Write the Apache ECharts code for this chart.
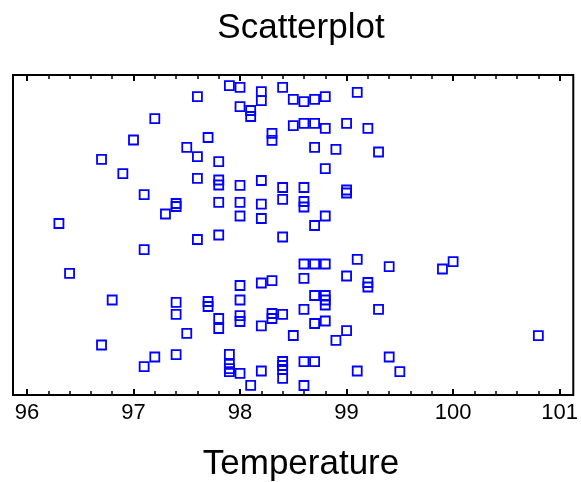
<!DOCTYPE html>
<html>
<head>
<meta charset="utf-8">
<script src="https://cdn.jsdelivr.net/npm/echarts@6/dist/echarts.min.js"></script>
<style>
  html, body { margin: 0; padding: 0; background: #fff; }
  #chart { width: 581px; height: 482px; }
</style>
</head>
<body>
<div id="chart"></div>
<script>
// Temperature levels (x) and the vertical jitter of each point at that level
const tempLevels = [96.3, 96.4, 96.7, 96.8, 96.9, 97.0, 97.1, 97.2, 97.3, 97.4, 97.5, 97.6, 97.7, 97.8, 97.9,
  98.0, 98.1, 98.2, 98.3, 98.4, 98.5, 98.6, 98.7, 98.8, 98.9, 99.0, 99.1, 99.2, 99.3, 99.4, 99.5, 99.9, 100.0, 100.8];
const jitterByLevel = [
  [171.5],
  [121.7],
  [235.7, 50],
  [95],
  [221.3],
  [255],
  [200.3, 145.3, 28.3],
  [276.3, 38],
  [181],
  [191.5, 188.5, 92.7, 80.7, 40.3],
  [247.7, 61.7],
  [298.3, 238.3, 216.7, 155.5],
  [257.5, 93.5, 88.5],
  [233.3, 215, 210, 192.7, 160, 76.5, 66.5],
  [309.3, 40.7, 30.7, 26.3, 23.3],
  [307.7, 288.3, 209.7, 192.7, 179, 109.5, 95, 79.3, 73.5, 21.7],
  [284.5, 278.5, 9.7],
  [303.3, 294.3, 214.5, 190.8, 176.5, 112, 69.2, 24],
  [261.7, 254.7, 114.3, 81.5, 76.5],
  [307.7, 207.5, 195.7, 158, 80.7, 33.5, 29.5, 25.5, 16.7],
  [295.7, 269.3, 59.5],
  [293.3, 271.7, 207.5, 193.5, 188, 131, 116.7, 85.7, 33.3, 9.5],
  [295.7, 271.7, 247.7, 169.5, 131, 99.5, 71.5, 33.3],
  [298.3, 266.7, 226.3, 179, 131, 99.5, 95, 90, 74],
  [245.7, 54.7],
  [271.7, 205, 202, 119, 64.3],
  [302.7, 135.7, 24],
  [266.7, 112.5, 108],
  [243, 85.7],
  [128.3, 38],
  [23.3],
  [126],
  [133.3],
  [59.3]
];
const majorTicks = [96, 97, 98, 99, 100, 101];
const minorTicks = [];
for (let i = 0; i <= 25; i++) { minorTicks.push(Math.round((96 + i * 0.2) * 10) / 10); }
const tickLabels = ['96', '97', '98', '99', '100', '101'];

const points = [];
tempLevels.forEach((t, i) => { jitterByLevel[i].forEach(j => points.push([t, j])); });

const X_MIN = 95.869, X_MAX = 101.128;
const FONT = '"Liberation Sans", Arial, sans-serif';

function xAx(position, ticks, len, width, labels) {
  return {
    type: 'value', position: position, min: X_MIN, max: X_MAX,
    axisLine: { show: false }, splitLine: { show: false },
    axisTick: { show: true, inside: true, length: len, customValues: ticks,
      lineStyle: { color: '#000', width: width } },
    axisLabel: labels ? { show: true, customValues: ticks, margin: 7,
      formatter: v => tickLabels[majorTicks.indexOf(Math.round(v))] || String(v),
      color: '#000', fontSize: 22, fontFamily: FONT } : { show: false }
  };
}

const chart = echarts.init(document.getElementById('chart'), null, { renderer: 'canvas' });
chart.setOption({
  animation: false,
  backgroundColor: '#fff',
  title: [
    { text: 'Scatterplot', left: 296, top: 6, textAlign: 'center',
      textStyle: { fontSize: 35, fontWeight: 'normal', color: '#000', fontFamily: FONT } },
    { text: 'Temperature', left: 296, top: 442, textAlign: 'center',
      textStyle: { fontSize: 35, fontWeight: 'normal', color: '#000', fontFamily: FONT } }
  ],
  grid: { left: 13, top: 75, width: 563, height: 320, show: true,
    borderColor: '#000', borderWidth: 2, backgroundColor: 'transparent' },
  xAxis: [
    xAx('bottom', majorTicks, 6, 2, true),
    xAx('bottom', minorTicks, 4, 1.5, false),
    xAx('top', majorTicks, 6, 2, false),
    xAx('top', minorTicks, 4, 1.5, false)
  ],
  yAxis: { type: 'value', min: 0, max: 320, show: false },
  series: [{
    type: 'scatter', xAxisIndex: 0, yAxisIndex: 0,
    symbol: 'rect', symbolSize: 9,
    itemStyle: { color: 'rgba(0,0,0,0)', borderColor: '#0000ff', borderWidth: 1.8, opacity: 1 },
    data: points
  }]
});
</script>
</body>
</html>
